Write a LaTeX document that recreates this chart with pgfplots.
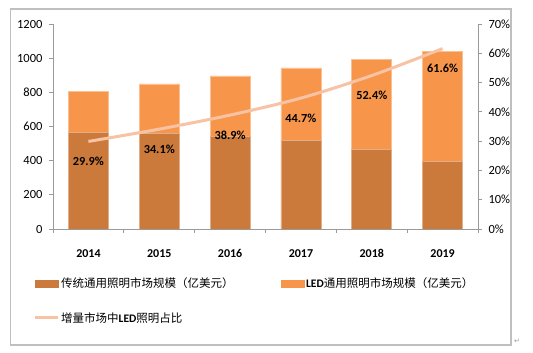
\documentclass[border=0pt]{standalone}
\usepackage{pgfplots}
\pgfplotsset{compat=1.18}
\usepackage{fontspec}
\setmainfont{Carlito}
\newfontfamily\cjk{Noto Sans CJK SC}
\newfontfamily\dejavu{DejaVu Sans}
\definecolor{darkbar}{HTML}{CB7A3B}
\definecolor{lightbar}{HTML}{F7964A}
\definecolor{linec}{HTML}{F8C2A4}
\definecolor{axgray}{HTML}{9A9A9A}
\definecolor{framegray}{HTML}{BFBFBF}
\begin{document}
\begin{tikzpicture}[x=1pt,y=1pt]
\path[use as bounding box] (0,0) rectangle (533,353);
\draw[framegray, line width=1.5pt] (10.5,8) rectangle (511,344);
\node[font=\dejavu\fontsize{7}{8}\selectfont, text=axgray, inner sep=0pt] at (517,12) {↵};

\begin{axis}[
  at={(53pt,124pt)}, anchor=south west,
  scale only axis, width=425pt, height=205pt,
  xmin=-0.5, xmax=5.5, ymin=0, ymax=1200,
  axis x line*=bottom, axis y line*=left,
  axis line style={axgray, line width=0.8pt},
  ybar stacked, bar width=40pt,
  xtick={0,...,5}, xticklabels={2014,2015,2016,2017,2018,2019},
  major x tick style={draw=none},
  minor xtick={-0.5,0.5,...,5.5},
  minor x tick style={axgray, line width=0.8pt}, minor tick length=4pt,
  ytick={0,200,...,1200}, yticklabels={0,200,400,600,800,1000,1200},
  tick align=outside, major tick length=4pt,
  y tick style={axgray, line width=0.8pt},
  x tick label style={font=\bfseries\fontsize{12}{14}\selectfont, yshift=-13pt},
  y tick label style={font=\fontsize{12.5}{14}\selectfont, xshift=-3pt},
]
\addplot[fill=darkbar, draw=white!40!darkbar, line width=0.6pt] coordinates {(0,564) (1,558) (2,543) (3,519) (4,468) (5,394)};
\addplot[fill=lightbar, draw=white!40!lightbar, line width=0.6pt] coordinates {(0,243) (1,291) (2,353) (3,424) (4,525) (5,644)};
\end{axis}

\begin{axis}[
  at={(53pt,124pt)}, anchor=south west,
  scale only axis, width=425pt, height=205pt,
  xmin=-0.5, xmax=5.5, ymin=0, ymax=70,
  axis x line=none, axis y line*=right,
  axis line style={axgray, line width=0.8pt},
  ytick={0,10,...,70}, yticklabels={0\%,10\%,20\%,30\%,40\%,50\%,60\%,70\%},
  tick align=outside, major tick length=4pt,
  y tick style={axgray, line width=0.8pt},
  y tick label style={font=\fontsize{12.5}{14}\selectfont, xshift=3pt},
  legend columns=2,
  legend cell align=left,
  legend style={draw=none, fill=none, inner sep=0pt,
    at={(-0.047,-0.228)}, anchor=north west,
    font=\cjk\fontsize{11.5}{13}\selectfont,
    row sep=19pt,
    /tikz/column 2/.style={column sep=45pt}},
]
\addlegendimage{legend image code/.code={\fill[darkbar] (0pt,-3.5pt) rectangle (23pt,3.5pt);}}
\addlegendimage{legend image code/.code={\fill[lightbar] (0pt,-3.5pt) rectangle (23pt,3.5pt);}}
\addplot[linec, line width=3pt, smooth, mark=none,
  legend image code/.code={\draw[linec, line width=3pt] (0pt,0pt) -- (23pt,0pt);},
  point meta=explicit,
  nodes near coords={\pgfmathprintnumber[fixed,precision=1,fixed zerofill,assume math mode=true]{\pgfplotspointmeta}\%},
  every node near coord/.append style={anchor=center, yshift=-20pt, text=black, font=\bfseries\fontsize{12.3}{14}\selectfont}]
  coordinates {(0,29.9) [29.9] (1,34.1) [34.1] (2,38.9) [38.9] (3,44.7) [44.7] (4,52.4) [52.4] (5,61.6) [61.6]};
\legend{传统通用照明市场规模（亿美元）, {\rmfamily\bfseries LED}通用照明市场规模（亿美元）, 增量市场中{\rmfamily\bfseries LED}照明占比}
\end{axis}
\end{tikzpicture}
\end{document}
